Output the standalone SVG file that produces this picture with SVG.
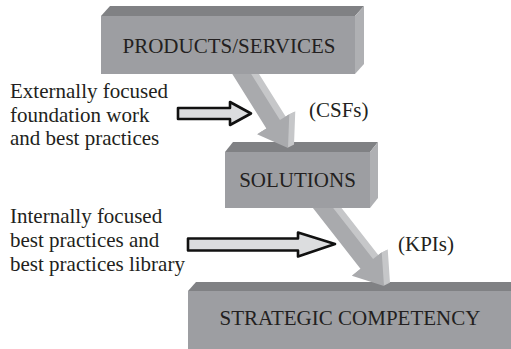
<svg xmlns="http://www.w3.org/2000/svg" xmlns:xlink="http://www.w3.org/1999/xlink" width="511" height="349" viewBox="0 0 511 349">
<style>
.front{fill:#9d9ea2}
.top{fill:#808184}
.side{fill:#afb0b3}
.lbl{font-family:"Liberation Serif","Times New Roman",serif;font-size:21px;fill:#231f20}
.ctr{text-anchor:middle}
.face{fill:#a9aaad}
.ext{fill:#c6c7c9}
.hollow{fill:#dcdddf;stroke:#111;stroke-width:2.6;stroke-linejoin:round}
</style>
<defs>
<path id="bigArrow" d="M0,0 L-28,19 L-28,8 L-115,8 L-115,-8 L-28,-8 L-28,-19 Z"/>
</defs>
<rect width="511" height="349" fill="#ffffff"/>

<g id="strategic-competency">
<polygon class="top" points="188,291 196,282 520,282 512,291"/>
<rect class="front" x="188" y="291" width="330" height="60"/>
<text class="lbl ctr" x="350" y="325">STRATEGIC COMPETENCY</text>
</g>

<g id="connectors">
<g id="arrow-solutions-strategic">
<use class="ext" xlink:href="#bigArrow" transform="translate(385,285.5) rotate(52)"/>
<use class="ext" xlink:href="#bigArrow" transform="translate(386,285) rotate(52)"/>
<use class="ext" xlink:href="#bigArrow" transform="translate(387,284.5) rotate(52)"/>
<use class="ext" xlink:href="#bigArrow" transform="translate(388,284) rotate(52)"/>
<use class="ext" xlink:href="#bigArrow" transform="translate(389,283.5) rotate(52)"/>
<use class="ext" xlink:href="#bigArrow" transform="translate(390,283) rotate(52)"/>
<use class="face" xlink:href="#bigArrow" transform="translate(384,286) rotate(52)"/>
</g>
</g>

<g id="solutions">
<polygon class="top" points="225,152 233,142 378,142 370,152"/>
<polygon class="side" points="370,152 378,142 378,198 370,208"/>
<rect class="front" x="225" y="152" width="145" height="56"/>
<text class="lbl ctr" x="297.5" y="187">SOLUTIONS</text>
</g>

<g id="connectors-2">
<g id="arrow-products-solutions">
<use class="ext" xlink:href="#bigArrow" transform="translate(289,147.5) rotate(58)"/>
<use class="ext" xlink:href="#bigArrow" transform="translate(290,147) rotate(58)"/>
<use class="ext" xlink:href="#bigArrow" transform="translate(291,146.5) rotate(58)"/>
<use class="ext" xlink:href="#bigArrow" transform="translate(292,146) rotate(58)"/>
<use class="ext" xlink:href="#bigArrow" transform="translate(293,145.5) rotate(58)"/>
<use class="ext" xlink:href="#bigArrow" transform="translate(294,145) rotate(58)"/>
<use class="face" xlink:href="#bigArrow" transform="translate(288,148) rotate(58)"/>
</g>
<path id="arrow-external" class="hollow" d="M178,108 H230 V102 L251,113.5 L230,125 V119 H178 Z"/>
<path id="arrow-internal" class="hollow" d="M188,238.5 H298 V232.5 L335,244 L298,256.5 V250.5 H188 Z"/>
</g>

<g id="products-services">
<polygon class="top" points="101,16 110,6 364,6 355,16"/>
<polygon class="side" points="355,16 364,6 364,64 355,74"/>
<rect class="front" x="101" y="16" width="254" height="58"/>
<text class="lbl ctr" x="229" y="53">PRODUCTS/SERVICES</text>
</g>

<g id="label-external">
<text class="lbl" x="10" y="98">Externally focused</text>
<text class="lbl" x="10" y="121.5">foundation work</text>
<text class="lbl" x="10" y="145">and best practices</text>
</g>
<g id="label-internal">
<text class="lbl" x="10" y="222.5">Internally focused</text>
<text class="lbl" x="10" y="246.5">best practices and</text>
<text class="lbl" x="10" y="270.5">best practices library</text>
</g>
<text id="label-csfs" class="lbl" x="309" y="117">(CSFs)</text>
<text id="label-kpis" class="lbl" x="398" y="251">(KPIs)</text>
</svg>
